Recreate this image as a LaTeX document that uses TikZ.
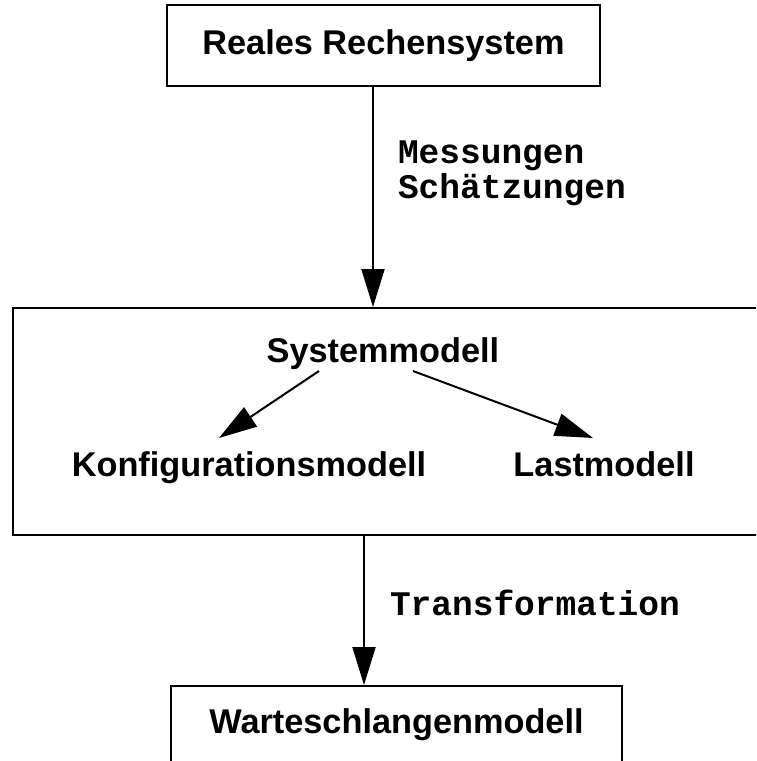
\documentclass[tikz,border=0pt]{standalone}
\usepackage{fontspec}
\setmainfont{Liberation Sans}
\setmonofont{Liberation Mono}
\usetikzlibrary{arrows.meta}
\begin{document}
\begin{tikzpicture}[x=1pt,y=-1pt,
	every node/.style={inner sep=0pt,font=\fontsize{34.3}{34.3}\selectfont\bfseries},
	box/.style={draw,line width=2pt},
	lbl/.style={anchor=west,align=left,font=\fontsize{34.5}{35}\selectfont\ttfamily\bfseries},
	pfeil/.style={line width=2pt,-{Triangle[length=38pt,width=23pt]}}]
	\useasboundingbox (0,0) rectangle (756,761);
	\clip (0,0) rectangle (756,761);
	\node[box,minimum width=433pt,minimum height=81pt](realsys) at (383.5,45.5) {Reales Rechensystem};
	\node[box,minimum width=787pt,minimum height=227pt](sysbox) at (406.5,421.5) {};
	\node[anchor=base](sysmod) at (383,362) {Systemmodell};
	\node[anchor=base](konfmod) at (249,476) {Konfigurationsmodell};
	\node[anchor=base](lastmod) at (604,476) {Lastmodell};
	\node[box,minimum width=451pt,minimum height=78pt](wsbox) at (396.5,725) {Warteschlangenmodell};
	\coordinate(ta) at (373,0);
	\coordinate(tb) at (364,0);
	% Pfeile
	\draw[pfeil] (ta |- realsys.south) -- (ta |- sysbox.north) node[pos=0.39,right=24pt,lbl](messlbl) {Messungen\\Sch\"atzungen};
	\draw[pfeil] ([xshift=-64pt,yshift=-9pt]sysmod.base) -- ([xshift=-30pt,yshift=38pt]konfmod.base);
	\draw[pfeil] ([xshift=30pt,yshift=-9pt]sysmod.base) -- ([xshift=-11pt,yshift=38pt]lastmod.base);
	\draw[pfeil] (tb |- sysbox.south) -- (tb |- wsbox.north) node[pos=0.45,right=25pt,lbl](trlbl) {Transformation};
\end{tikzpicture}
\end{document}
